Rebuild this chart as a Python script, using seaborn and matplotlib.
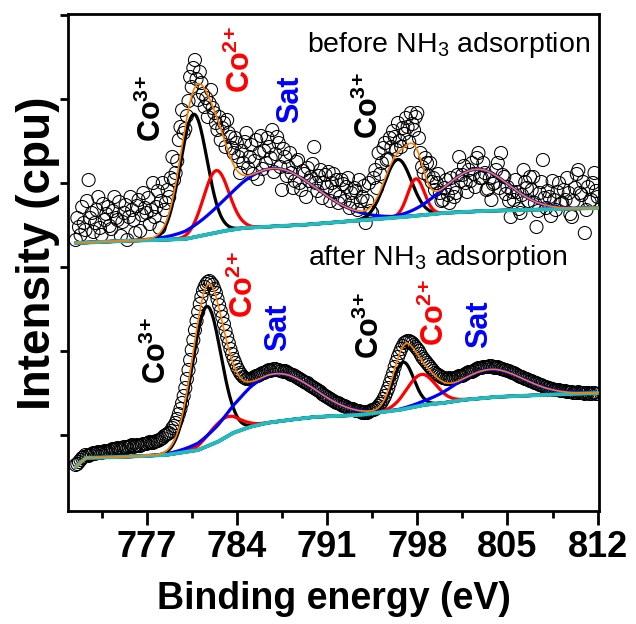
import numpy as np
import pandas as pd
import matplotlib
matplotlib.use("Agg")
import matplotlib.pyplot as plt
import seaborn as sns

# ---------------- data (intensity in arbitrary counts) ----------------
energy_start, energy_stop, energy_step = 771.5, 812.0, 0.125

before_counts = [
    279, 301, 292, 284,
    312, 296, 289, 318, 339, 301, 306, 287,
    296, 309, 322, 291, 284, 315, 299, 305,
    312, 293, 290, 308, 322, 301, 299, 317,
    283, 297, 306, 314, 279, 302, 322, 309,
    299, 286, 313, 319, 288, 304, 326, 311,
    306, 321, 295, 309, 336, 302, 312, 328,
    291, 318, 336, 309, 316, 329, 322, 341,
    362, 339, 346, 358, 379, 392, 409, 386,
    390, 403, 418, 442, 432, 451, 459, 440,
    419, 447, 436, 425, 412, 421, 402, 416,
    429, 411, 406, 396, 389, 402, 379, 391,
    396, 372, 399, 386, 382, 371, 366, 381,
    376, 362, 346, 368, 356, 377, 386, 351,
    362, 374, 345, 358, 379, 340, 366, 383,
    350, 368, 356, 381, 372, 361, 389, 347,
    365, 382, 376, 352, 329, 370, 362, 343,
    352, 366, 346, 331, 338, 357, 359, 336,
    329, 348, 345, 322, 351, 338, 342, 355,
    372, 336, 328, 343, 349, 321, 336, 344,
    332, 347, 318, 336, 345, 327, 339, 316,
    322, 339, 335, 318, 332, 341, 311, 326,
    316, 331, 328, 309, 339, 318, 322, 333,
    296, 318, 336, 308, 306, 341, 349, 331,
    366, 345, 356, 371, 376, 359, 360, 381,
    372, 388, 382, 369, 396, 378, 372, 391,
    385, 401, 392, 377, 406, 395, 389, 402,
    406, 381, 366, 352, 346, 361, 356, 343,
    356, 337, 341, 329, 336, 345, 326, 318,
    319, 331, 339, 324, 316, 341, 331, 322,
    326, 344, 362, 338, 344, 353, 336, 327,
    349, 338, 356, 345, 332, 361, 366, 341,
    341, 356, 346, 329, 330, 341, 319, 335,
    336, 349, 356, 331, 366, 344, 342, 325,
    332, 318, 302, 327, 319, 339, 327, 310,
    306, 324, 349, 337, 331, 318, 342, 329,
    342, 316, 292, 308, 326, 337, 359, 321,
    311, 328, 322, 303, 338, 319, 309, 327,
    336, 315, 316, 329, 319, 341, 326, 305,
    302, 318, 331, 345, 349, 326, 324, 337,
    286, 309, 332, 317, 319, 336, 346, 328,
    322,
]

after_counts = [
    54, 55, 57, 59,
    61, 62, 64, 63, 63, 64, 65, 66,
    65, 66, 67, 66, 66, 67, 68, 67,
    67, 68, 69, 70, 69, 70, 71, 70,
    70, 71, 72, 72, 71, 72, 73, 74,
    72, 73, 74, 73, 73, 74, 75, 75,
    75, 76, 77, 76, 76, 77, 78, 78,
    79, 80, 81, 83, 84, 85, 86, 88,
    91, 93, 96, 100, 105, 110, 116, 123,
    131, 140, 149, 159, 169, 179, 189, 198,
    207, 215, 222, 228, 232, 235, 237, 238,
    236, 234, 230, 226, 220, 214, 208, 202,
    195, 188, 182, 176, 170, 165, 160, 156,
    152, 149, 146, 144, 142, 141, 140, 140,
    140, 140, 141, 142, 143, 143, 144, 145,
    146, 146, 147, 148, 149, 148, 149, 150,
    150, 149, 149, 148, 148, 147, 148, 147,
    146, 145, 144, 144, 143, 142, 141, 140,
    139, 138, 137, 136, 136, 134, 133, 132,
    131, 130, 129, 128, 127, 125, 124, 123,
    122, 121, 120, 119, 118, 117, 116, 116,
    115, 114, 113, 113, 112, 111, 110, 110,
    110, 109, 108, 108, 108, 107, 106, 106,
    107, 106, 107, 108, 109, 109, 110, 111,
    113, 115, 117, 120, 123, 127, 131, 136,
    141, 146, 152, 157, 162, 166, 170, 173,
    176, 177, 178, 178, 177, 176, 174, 172,
    170, 168, 165, 162, 160, 158, 156, 154,
    152, 150, 148, 146, 145, 144, 143, 142,
    141, 141, 140, 140, 141, 140, 140, 141,
    141, 142, 143, 143, 143, 144, 145, 146,
    147, 147, 147, 148, 149, 150, 151, 151,
    151, 152, 152, 152, 152, 153, 153, 152,
    151, 151, 152, 151, 150, 150, 149, 149,
    148, 148, 147, 146, 146, 145, 144, 143,
    142, 142, 141, 140, 140, 139, 138, 138,
    137, 136, 136, 135, 134, 134, 133, 132,
    132, 131, 131, 130, 130, 129, 129, 129,
    129, 128, 128, 128, 128, 127, 127, 127,
    127, 126, 126, 126, 127, 126, 126, 126,
    125, 126, 126, 125, 125, 126, 126, 125,
    125,
]

# Shirley-type background knots
bg_top_x = [771.5, 775, 778, 780, 781.5, 783, 784.5, 786, 789, 792, 795, 797, 798.5, 800, 803, 806, 812]
bg_top_y = [276, 278, 279, 280, 284, 288, 291, 292, 294, 297, 300, 302, 304, 306, 308, 309, 311]
bg_bot_x = [771.5, 771.9, 772.3, 775, 778.5, 781, 782.5, 783.7, 785, 786.3, 788, 790, 793.5, 796.6, 798.5, 800, 801.5, 804, 807.5, 812]
bg_bot_y = [52, 57, 61, 62, 64, 69, 77, 86, 92, 96, 99, 102, 104, 109, 114, 116, 119, 122, 124, 126]

# fitted components: Co3+, Co2+, Sat (2p3/2) then Co3+, Co2+, Sat (2p1/2)
peak_colors = ["#000000", "#ff0000", "#0000ff", "#000000", "#ff0000", "#0000ff"]
top_centers = [780.65, 782.4, 786.8, 796.5, 797.9, 802.6]
top_heights = [123, 62, 58, 58, 37, 42]
top_sigmas = [1.04, 0.99, 3.4, 1.05, 0.65, 2.5]
bot_centers = [781.65, 783.0, 786.9, 796.9, 798.3, 803.6]
bot_heights = [140, 20, 48, 47, 31, 28]
bot_sigmas = [1.12, 1.15, 3.0, 0.82, 1.15, 2.6]

xticks_major = [777, 784, 791, 798, 805, 812]

sns.set_style("ticks")
plt.rcParams["font.family"] = ["Liberation Sans", "DejaVu Sans"]
plt.rcParams["mathtext.fontset"] = "custom"
plt.rcParams["mathtext.rm"] = "Liberation Sans"
plt.rcParams["mathtext.bf"] = "Liberation Sans:bold"
plt.rcParams["mathtext.default"] = "bf"
for key in ["text.color", "axes.labelcolor", "xtick.color", "ytick.color", "axes.edgecolor"]:
    plt.rcParams[key] = "black"

fig = plt.figure(figsize=(6.36, 6.24), dpi=100)
ax = fig.add_axes([68/636, 1-511/624, (599-68)/636, (511-14)/624])

energy = np.arange(energy_start, energy_stop + 1e-6, energy_step)
df = pd.DataFrame({
    "energy": np.concatenate([energy, energy]),
    "counts": before_counts + after_counts,
    "sample": ["before"] * len(energy) + ["after"] * len(energy),
})
sns.scatterplot(data=df, x="energy", y="counts", ax=ax, s=88, marker="o",
                facecolors="none", edgecolor="black", linewidth=0.75, zorder=2, legend=False)

E = np.arange(energy_start, energy_stop + 1e-6, 0.05)
for bx, by, cs, hs, ss in [(bg_top_x, bg_top_y, top_centers, top_heights, top_sigmas),
                           (bg_bot_x, bg_bot_y, bot_centers, bot_heights, bot_sigmas)]:
    bg = np.interp(E, bx, by)
    env = bg.copy()
    for c, h, s, col in zip(cs, hs, ss, peak_colors):
        comp = h * np.exp(-(E - c) ** 2 / (2 * s ** 2))
        env = env + comp
        sns.lineplot(x=E, y=bg + comp, color=col, lw=2.3, ax=ax, zorder=3)
    sns.lineplot(x=E, y=bg, color="#22bcbc", lw=2.8, ax=ax, zorder=4)
    sns.lineplot(x=E, y=env, color="#ff8000", lw=1.2, ax=ax, zorder=5)

ax.set_xlim(770.9, 812.1)
ax.set_ylim(8, 505)
ax.set_xticks(xticks_major)
ax.set_xticks(np.arange(773.5, 812, 7), minor=True)
ax.set_yticks([84, 168, 252, 336, 420, 504])
ax.set_yticklabels([])
for sp in ax.spines.values():
    sp.set_linewidth(2.0)
    sp.set_color("black")
ax.tick_params(axis="x", which="major", length=10, width=2.0, direction="out", pad=3.5,
               labelsize=26, colors="black")
ax.tick_params(axis="x", which="minor", length=5, width=2.0, direction="out", colors="black")
ax.tick_params(axis="y", which="major", length=6, width=2.0, direction="out", colors="black")
for lab in ax.get_xticklabels():
    lab.set_fontweight("bold")
ax.set_xlabel("Binding energy (eV)", fontsize=27, fontweight="bold", color="black")
ax.set_ylabel("Intensity (cpu)", fontsize=33, fontweight="bold", color="black")
ax.xaxis.set_label_coords(0.5, -0.141)
ax.yaxis.set_label_coords(-0.016, 0.518)

ax.text(800.4, 474, r"before NH$_\mathregular{3}$ adsorption", fontsize=20.5, ha="center", va="center", color="black")
ax.text(799.6, 261, r"after NH$_\mathregular{3}$ adsorption", fontsize=20.5, ha="center", va="center", color="black")
labs = [(777.47, 411, "Co$^{3}$$^{+}$", "black"), (784.37, 460, "Co$^{2}$$^{+}$", "red"),
        (788.10, 420, "Sat", "blue"), (794.31, 414, "Co$^{3}$$^{+}$", "black"),
        (777.85, 169, "Co$^{3}$$^{+}$", "black"), (784.61, 235, "Co$^{2}$$^{+}$", "red"),
        (787.24, 192, "Sat", "blue"), (794.38, 194, "Co$^{3}$$^{+}$", "black"),
        (799.43, 207, "Co$^{2}$$^{+}$", "red"), (802.77, 195, "Sat", "blue")]
for x, y, t, c in labs:
    ax.text(x, y, t, color=c, fontsize=22, fontweight="bold", rotation=90,
            ha="center", va="center", zorder=6)

fig.savefig("out.png", dpi=100)
